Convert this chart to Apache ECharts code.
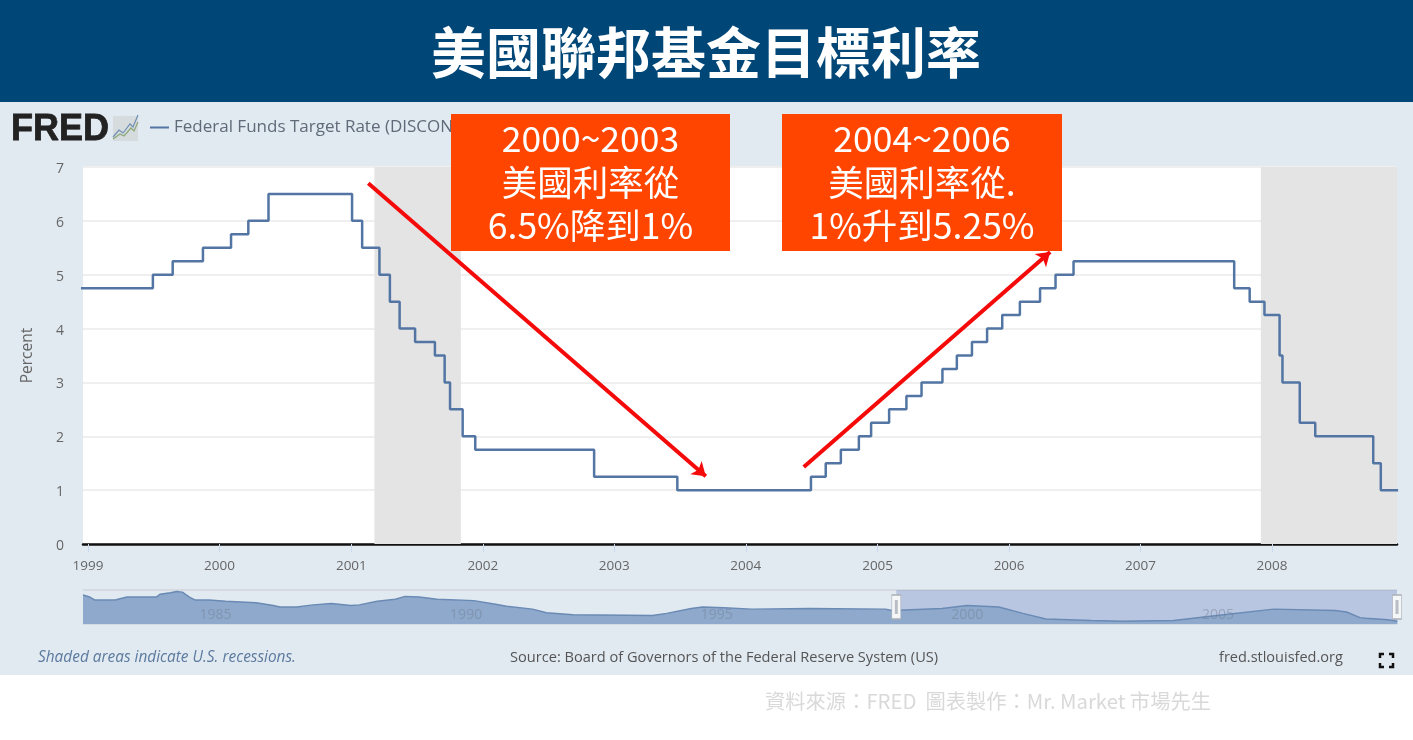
<!DOCTYPE html>
<html>
<head>
<meta charset="utf-8">
<title>美國聯邦基金目標利率</title>
<script src="https://cdn.jsdelivr.net/npm/echarts@6/dist/echarts.min.js"></script>
<style>
html, body { margin: 0; padding: 0; background: #fff; }
#main { width: 1413px; height: 740px; }
</style>
</head>
<body>
<div id="main"></div>
<script>
// target rate: each value holds from its date until the next one
const rateDates = ['1998-11-17','1999-06-30','1999-08-24','1999-11-16','2000-02-02','2000-03-21','2000-05-16',
    '2001-01-03','2001-01-31','2001-03-20','2001-04-18','2001-05-15','2001-06-27','2001-08-21','2001-09-17',
    '2001-10-02','2001-11-06','2001-12-11','2002-11-06','2003-06-25','2004-06-30','2004-08-10','2004-09-21',
    '2004-11-10','2004-12-14','2005-02-02','2005-03-22','2005-05-03','2005-06-30','2005-08-09','2005-09-20',
    '2005-11-01','2005-12-13','2006-01-31','2006-03-28','2006-05-10','2006-06-29','2007-09-18','2007-10-31',
    '2007-12-11','2008-01-22','2008-01-30','2008-03-18','2008-04-30','2008-10-08','2008-10-29','2008-12-16'];
const rateValues = [4.75,5,5.25,5.5,5.75,6,6.5,6,5.5,5,4.5,4,3.75,3.5,3,2.5,2,1.75,1.25,1,1.25,1.5,1.75,2,2.25,
    2.5,2.75,3,3.25,3.5,3.75,4,4.25,4.5,4.75,5,5.25,4.75,4.5,4.25,3.5,3,2.25,2,1.5,1,1];

// overview strip under the chart, full history
const navDates = ['1982-09-27','1982-11-15','1982-12-20','1983-05-20','1983-07-01','1983-08-15','1984-03-15',
    '1984-04-10','1984-06-25','1984-08-10','1984-09-20','1984-11-10','1984-12-20','1985-04-01','1985-08-01',
    '1986-03-10','1986-07-15','1986-09-01','1987-01-01','1987-05-01','1987-09-10','1988-01-30','1988-04-01',
    '1988-08-10','1988-12-20','1989-03-01','1989-06-10','1989-10-20','1990-07-15','1990-12-20','1991-03-10',
    '1991-09-15','1991-12-25','1992-07-05','1994-02-04','1994-05-20','1994-11-15','1995-02-05','1995-07-10',
    '1996-01-31','1997-03-25','1998-09-29','1998-11-17','1999-11-16','2000-05-16','2001-01-03','2001-06-27',
    '2001-12-11','2002-11-06','2003-06-25','2004-06-30','2005-06-30','2006-06-29','2007-09-18','2007-12-11',
    '2008-03-18','2008-04-30','2008-10-08','2008-12-16'];
const navValues = [10.25,9.5,8.5,8.5,9,9.5,9.5,10.5,11,11.5,11.25,9.5,8.5,8.5,8,7.5,6.5,6,6,6.75,7.25,6.5,6.75,
    8,8.75,9.75,9.5,8.75,8.25,7,6.25,5.25,4,3.25,3,3.75,5.5,6,5.75,5.25,5.5,5.25,4.75,5.5,6.5,6,3.75,1.75,1.25,
    1,1.25,3.25,5.25,4.75,4.25,2.25,2,1.5,1];

const recessions = [['2001-03-06','2001-11-01'],['2007-12-01','2008-12-13']];
const chartStart = '1998-12-18';
const chartEnd = '2008-12-13';
const navStart = '1982-09-27';
const yearTicks = [1999,2000,2001,2002,2003,2004,2005,2006,2007,2008];
const navYearTicks = [1985,1990,1995,2000,2005];

const arrowDown = [['2001-02-17',6.7],['2003-09-12',1.26]];
const arrowUp = [['2004-06-10',1.43],['2006-04-25',5.42]];

const seriesName = 'Federal Funds Target Rate (DISCONTINUED)';
const titleText = '美國聯邦基金目標利率';
const noteLeft = '2000~2003\n美國利率從\n6.5%降到1%';
const noteRight = '2004~2006\n美國利率從.\n1%升到5.25%';
const sourceText = 'Source: Board of Governors of the Federal Reserve System (US)';
const recessionText = 'Shaded areas indicate U.S. recessions.';
const siteText = 'fred.stlouisfed.org';
const creditText = '資料來源：FRED  圖表製作：Mr. Market 市場先生';

const UI_FONT = '"Open Sans", sans-serif';
const CJK_FONT = '"Noto Sans CJK TC", sans-serif';

function ms(s) { return new Date(s + 'T00:00:00').getTime(); }
function jan1(y) { return new Date(y, 0, 1).getTime(); }
function zip(a, b) { return a.map((d, i) => [ms(d), b[i]]); }
function yearLabel(v) { return String(new Date(v).getFullYear()); }
function cornerLine(points) {
    return { type: 'polyline', z: 50, shape: { points: points }, style: { stroke: '#111', lineWidth: 2.5, fill: null } };
}
function noteBox(x, w, txt) {
    return [
        { type: 'rect', z: 60, shape: { x: x, y: 114, width: w, height: 137 }, style: { fill: '#ff4500' } },
        { type: 'text', z: 61, x: x + w / 2, y: 117, style: { text: txt, fill: '#fff', font: '35.5px ' + CJK_FONT, lineHeight: 43.5, align: 'center', verticalAlign: 'top' } }
    ];
}
function plainText(x, y, txt, fill, font, align) {
    return { type: 'text', z: 50, x: x, y: y, style: { text: txt, fill: fill, font: font, align: align || 'left', verticalAlign: 'middle' } };
}
function handle(date) {
    return [
        { coord: [ms(date), 6] },
        { coord: [ms(date), 6], symbolSize: [3, 14], itemStyle: { color: '#b9bec4', borderWidth: 0 } }
    ];
}

let mainchart = echarts.init(document.getElementById('main'));
let chart_config = {
    animation: false,
    legend: {
        data: [seriesName], left: 150, top: 119, padding: 0, itemWidth: 19, itemHeight: 2, itemGap: 7,
        icon: 'rect', textStyle: { color: '#5f6b78', fontFamily: UI_FONT, fontSize: 17 }
    },
    grid: [
        { left: 83, right: 16, top: 167, height: 377, show: true, backgroundColor: '#fff', borderWidth: 0 },
        { left: 83, right: 16, top: 590, height: 34 }
    ],
    xAxis: [
        {
            type: 'value', gridIndex: 0, min: ms(chartStart), max: ms(chartEnd),
            axisLine: { show: true, onZero: false, lineStyle: { color: '#111', width: 2.5 } },
            axisTick: { show: true, length: 8, lineStyle: { color: '#ccd6eb' }, customValues: yearTicks.map(jan1) },
            axisLabel: {
                customValues: yearTicks.map(jan1), margin: 15, color: '#666', fontFamily: UI_FONT, fontSize: 13.5,
                formatter: yearLabel
            },
            splitLine: { show: false }
        },
        {
            type: 'value', gridIndex: 1, min: ms(navStart), max: ms(chartEnd), z: 10,
            axisLine: { show: false }, axisTick: { show: false },
            axisLabel: {
                inside: true, align: 'left', customValues: navYearTicks.map(jan1), margin: 2, color: 'rgba(110,125,145,0.45)',
                fontFamily: UI_FONT, fontSize: 14, padding: [0, 0, 0, 3], formatter: yearLabel
            },
            splitLine: { show: false }
        }
    ],
    yAxis: [
        {
            type: 'value', gridIndex: 0, min: 0, max: 7, interval: 1,
            name: 'Percent', nameLocation: 'middle', nameGap: 47, nameRotate: 90,
            nameTextStyle: { color: '#666', fontFamily: UI_FONT, fontSize: 15.5 },
            axisLine: { show: false }, axisTick: { show: false },
            axisLabel: {
                margin: 19, formatter: '{a|{value}}',
                rich: { a: { color: '#666', fontFamily: UI_FONT, fontSize: 14, padding: [4, 0, 0, 0] } }
            },
            splitLine: { lineStyle: { color: '#efefef', width: 2 } }
        },
        {
            type: 'value', gridIndex: 1, min: 0, max: 12, interval: 12,
            axisLine: { show: false }, axisTick: { show: false }, axisLabel: { show: false },
            splitLine: { lineStyle: { color: '#cfd4da', width: 1.5 } }
        }
    ],
    series: [
        {
            name: seriesName, type: 'line', xAxisIndex: 0, yAxisIndex: 0,
            data: zip(rateDates, rateValues), step: 'end', showSymbol: false,
            lineStyle: { color: '#5275a3', width: 2.5 }, itemStyle: { color: '#5275a3' },
            markArea: {
                silent: true, itemStyle: { color: '#e4e4e4' },
                data: recessions.map(r => [{ xAxis: ms(r[0]) }, { xAxis: ms(r[1]) }])
            },
            markLine: {
                silent: true, symbol: ['none', 'arrow'], symbolSize: 13, label: { show: false },
                lineStyle: { color: '#f50a0a', width: 4, type: 'solid' },
                data: [
                    [{ coord: [ms(arrowDown[0][0]), arrowDown[0][1]] }, { coord: [ms(arrowDown[1][0]), arrowDown[1][1]] }],
                    [{ coord: [ms(arrowUp[0][0]), arrowUp[0][1]] }, { coord: [ms(arrowUp[1][0]), arrowUp[1][1]] }]
                ]
            }
        },
        {
            name: 'overview', type: 'line', xAxisIndex: 1, yAxisIndex: 1,
            data: zip(navDates, navValues), showSymbol: false,
            lineStyle: { color: '#6a8ab4', width: 1.5 }, areaStyle: { color: '#8ea9cb', opacity: 1 },
            markArea: {
                silent: true, itemStyle: { color: 'rgba(90,120,190,0.3)' },
                data: [[{ xAxis: ms(chartStart), yAxis: 0 }, { xAxis: ms(chartEnd), yAxis: 12 }]]
            },
            markPoint: {
                silent: true, symbol: 'rect', symbolSize: [9, 24], label: { show: false },
                itemStyle: { color: '#f4f6f8', borderColor: '#a9b0b8', borderWidth: 1 },
                data: [...handle(chartStart), ...handle(chartEnd)]
            }
        }
    ],
    graphic: [
        // page bands
        { type: 'rect', z: -10, shape: { x: 0, y: 102, width: 1413, height: 573 }, style: { fill: '#e1e9f1' } },
        { type: 'rect', z: -10, shape: { x: 0, y: 0, width: 1413, height: 102 }, style: { fill: '#004777' } },
        { type: 'text', z: 50, x: 706, y: 52, style: { text: titleText, fill: '#fff', font: 'bold 55px ' + CJK_FONT, align: 'center', verticalAlign: 'middle' } },
        // logo
        { type: 'text', z: 50, x: 11, y: 130, style: { text: 'FRED', fill: '#222', stroke: '#222', lineWidth: 0.8, font: 'bold 36px "Liberation Sans", sans-serif', verticalAlign: 'middle' } },
        { type: 'rect', z: 50, shape: { x: 113, y: 116, width: 25, height: 25 }, style: { fill: '#d6dbde' } },
        { type: 'polyline', z: 51, shape: { points: [[113, 137], [119, 130], [123, 133], [130, 124], [133, 127], [138, 115]] }, style: { stroke: '#6f8fb2', lineWidth: 1.2, fill: null } },
        { type: 'polyline', z: 51, shape: { points: [[113, 139], [120, 134], [124, 136], [131, 128], [134, 131], [138, 122]] }, style: { stroke: '#8aa877', lineWidth: 1.2, fill: null } },
        // annotation boxes
        ...noteBox(451, 279, noteLeft),
        ...noteBox(782, 280, noteRight),
        // footer
        plainText(38, 658, recessionText, '#5b7a9e', 'italic 15.4px ' + UI_FONT),
        plainText(510, 658, sourceText, '#555', '14.6px ' + UI_FONT),
        plainText(1219, 658, siteText, '#555', '14.5px ' + UI_FONT),
        cornerLine([[1380, 658], [1380, 654], [1384, 654]]),
        cornerLine([[1389, 654], [1393, 654], [1393, 658]]),
        cornerLine([[1380, 663], [1380, 667], [1384, 667]]),
        cornerLine([[1389, 667], [1393, 667], [1393, 663]]),
        plainText(765, 701, creditText, '#d9d9d9', '20.3px ' + CJK_FONT)
    ]
};
mainchart.setOption(chart_config);
</script>
</body>
</html>
